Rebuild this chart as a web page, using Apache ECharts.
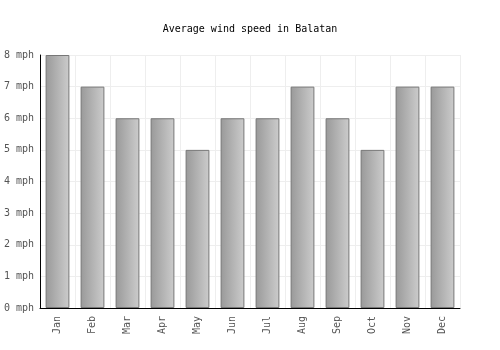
<!DOCTYPE html>
<html><head><meta charset="utf-8">
<script src="https://cdn.jsdelivr.net/npm/echarts@6/dist/echarts.min.js"></script>
<style>html,body{margin:0;padding:0;background:#fff}#c{width:500px;height:350px}</style>
</head><body><div id="c"></div>
<script>
var categories = ["Jan","Feb","Mar","Apr","May","Jun","Jul","Aug","Sep","Oct","Nov","Dec"];
var windSpeed = [8,7,6,6,5,6,6,7,6,5,7,7];
var titleText = "Average wind speed in Balatan";
var font = "'DejaVu Sans Mono', monospace";
var chart = echarts.init(document.getElementById('c'), null, {renderer:'canvas'});
chart.setOption({
  animation:false,
  title:{text:titleText,left:'center',top:19,textStyle:{fontFamily:font,fontSize:10,fontWeight:'normal',color:'#000'}},
  grid:{left:40,right:40,top:55,bottom:42,containLabel:false},
  xAxis:{type:'category',data:categories,
    axisLine:{lineStyle:{color:'#000',width:1}},
    axisTick:{show:false},
    splitLine:{show:true,interval:0,lineStyle:{color:'#eeeeee'}},
    axisLabel:{rotate:90,interval:0,fontFamily:font,fontSize:10,color:'#555',margin:8}},
  yAxis:{type:'value',min:0,max:8,interval:1,
    axisLine:{show:true,lineStyle:{color:'#000',width:1}},
    axisTick:{show:false},
    splitLine:{lineStyle:{color:'#eeeeee'}},
    axisLabel:{formatter:'{value} mph',fontFamily:font,fontSize:10,color:'#555',margin:6}},
  series:[{type:'bar',data:windSpeed,barWidth:'68%',
    itemStyle:{borderColor:'#777',borderWidth:1,
      color:new echarts.graphic.LinearGradient(0,0,1,0,[{offset:0,color:'#999999'},{offset:1,color:'#cccccc'}])}}]
});
</script></body></html>
